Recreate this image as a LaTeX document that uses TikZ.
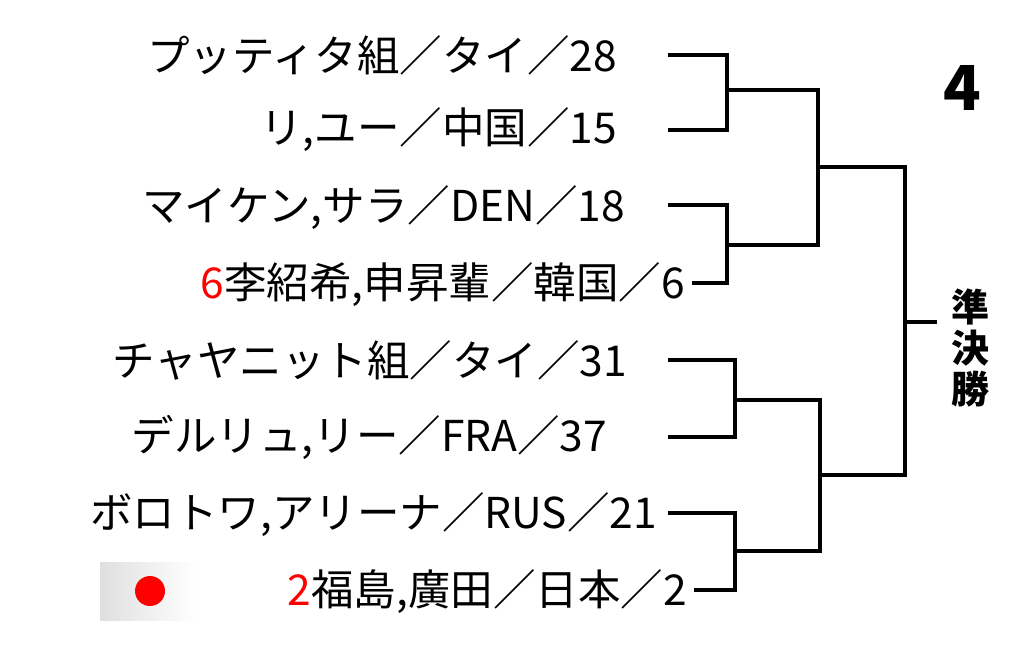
\documentclass[tikz,border=0pt]{standalone}
\usepackage{fontspec}
\setmainfont{Noto Sans CJK JP}
\begin{document}
\begin{tikzpicture}[x=1pt,y=-1pt,
  lbl/.style={anchor=east,font=\fontsize{42.5}{46}\selectfont,inner sep=0},
  br/.style={line width=3.5pt,line cap=rect}]
\useasboundingbox (0,0) rectangle (1024,657);
\fill[white] (0,0) rectangle (1024,657);
\foreach \t/\x/\y/\n in {{プッティタ組／タイ／28}/617/55/a,{リ,ユー／中国／15}/617/130/b,{マイケン,サラ／DEN／18}/625/208/c,{\textcolor{red}{6}李紹希,申昇輩／韓国／6}/685/285/d,{チャヤニット組／タイ／31}/627/360/e,{デルリュ,リー／FRA／37}/607/437/f,{ボロトワ,アリーナ／RUS／21}/657/515/g,{\textcolor{red}{2}福島,廣田／日本／2}/687/592/h}
  \node[lbl] (\n) at (\x,\y) {\t};
\coordinate (fa) at (670,55); \coordinate (fb) at (670,130);
\coordinate (fc) at (670,205); \coordinate (fd) at (694,283);
\coordinate (fe) at (670,360); \coordinate (ff) at (670,437);
\coordinate (fg) at (670,513); \coordinate (fh) at (696,590);
\draw[br] (fa) -| (727,130) -- (fb);
\draw[br] (fc) -| (727,283) -- (fd);
\draw[br] (fe) -| (735,437) -- (ff);
\draw[br] (fg) -| (735,590) -- (fh);
\draw[br] (727,90) -| (818,245) -- (727,245);
\draw[br] (735,400) -| (820,551) -- (735,551);
\draw[br] (818,167) -| (905,475) -- (820,475);
\draw[br] (905,322) -- (935,322);
\node[font=\bfseries\fontsize{62}{62}\selectfont] (four) at (962,88) {4};
\node[font=\bfseries\fontsize{38}{41}\selectfont,align=center] (semi) at (970,348) {準\\決\\勝};
\shade[left color=gray!25,right color=white] (100,562) rectangle (196,620);
\fill[red] (150,591) circle (15);
\end{tikzpicture}
\end{document}
